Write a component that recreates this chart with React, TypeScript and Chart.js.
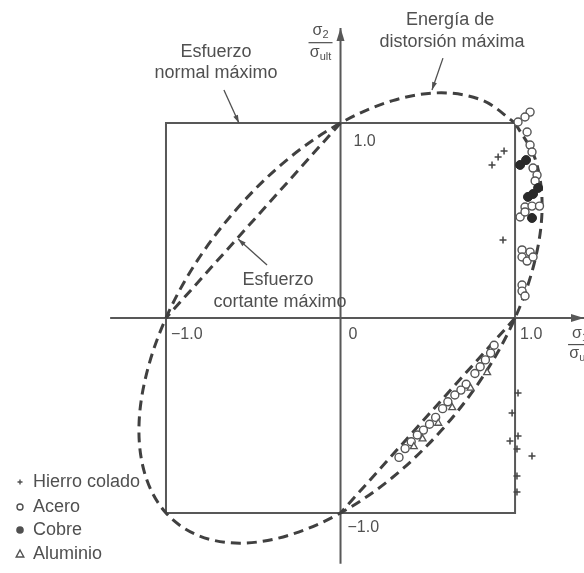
import React, { useEffect, useRef } from "react";
import { Chart, registerables } from "chart.js";

Chart.register(...registerables);

// ---- scale ranges (data units: sigma / sigma_ult) ----
const X_MIN = -1.951;
const X_MAX = 1.395;
const Y_MIN = -1.308;
const Y_MAX = 1.631;

// ---- theory curves ----
const normalMaximo = [
  { x: -1, y: -1 }, { x: 1, y: -1 }, { x: 1, y: 1 }, { x: -1, y: 1 }, { x: -1, y: -1 },
];
const cortanteMaximoA = [{ x: 0, y: 1 }, { x: -1, y: 0 }];
const cortanteMaximoB = [{ x: 1, y: 0 }, { x: 0, y: -1 }];
const energiaDistorsion = [
  { x: 1, y: 1 }, { x: 1.115, y: 0.817 }, { x: 1.155, y: 0.577 }, { x: 1.115, y: 0.299 },
  { x: 1.0, y: 0.0 }, { x: 0.817, y: -0.299 }, { x: 0.577, y: -0.577 }, { x: 0.299, y: -0.817 },
  { x: 0, y: -1 }, { x: -0.299, y: -1.115 }, { x: -0.577, y: -1.155 }, { x: -0.817, y: -1.115 },
  { x: -1, y: -1 }, { x: -1.115, y: -0.817 }, { x: -1.155, y: -0.577 }, { x: -1.115, y: -0.299 },
  { x: -1, y: 0 }, { x: -0.817, y: 0.299 }, { x: -0.577, y: 0.577 }, { x: -0.299, y: 0.817 },
  { x: 0, y: 1 }, { x: 0.299, y: 1.115 }, { x: 0.577, y: 1.155 }, { x: 0.817, y: 1.115 },
  { x: 1, y: 1 },
];

// ---- axes ----
const ejeX = [{ x: -1.32, y: 0 }, { x: 1.395, y: 0 }];
const ejeY = [{ x: 0, y: -1.26 }, { x: 0, y: 1.487 }];
const tickValuesX = [-1, 0, 1];
const tickLabelsX = ["\u22121.0", "0", "1.0"];
const tickValuesY = [1, -1];
const tickLabelsY = ["1.0", "\u22121.0"];

// ---- experimental data ----
const hierroColado = [
  { x: 1.017, y: -0.385 }, { x: 0.983, y: -0.487 }, { x: 1.017, y: -0.605 }, { x: 0.971, y: -0.631 },
  { x: 1.011, y: -0.672 }, { x: 1.097, y: -0.708 }, { x: 1.011, y: -0.81 }, { x: 1.011, y: -0.892 },
  { x: 0.868, y: 0.785 }, { x: 0.903, y: 0.826 }, { x: 0.937, y: 0.856 }, { x: 0.931, y: 0.4 },
];
const acero = [
  { x: 1.086, y: 1.056 }, { x: 1.057, y: 1.031 }, { x: 1.017, y: 1.005 }, { x: 1.069, y: 0.954 },
  { x: 1.086, y: 0.887 }, { x: 1.097, y: 0.851 }, { x: 1.103, y: 0.769 }, { x: 1.126, y: 0.733 },
  { x: 1.115, y: 0.703 }, { x: 1.057, y: 0.569 }, { x: 1.097, y: 0.574 }, { x: 1.14, y: 0.574 },
  { x: 1.029, y: 0.518 }, { x: 1.057, y: 0.544 }, { x: 1.04, y: 0.349 }, { x: 1.086, y: 0.338 },
  { x: 1.04, y: 0.313 }, { x: 1.069, y: 0.292 }, { x: 1.103, y: 0.313 }, { x: 1.04, y: 0.169 },
  { x: 1.04, y: 0.138 }, { x: 1.057, y: 0.113 },
  { x: 0.88, y: -0.14 }, { x: 0.86, y: -0.18 }, { x: 0.83, y: -0.215 }, { x: 0.8, y: -0.25 },
  { x: 0.77, y: -0.285 }, { x: 0.72, y: -0.34 }, { x: 0.69, y: -0.37 }, { x: 0.655, y: -0.395 },
  { x: 0.615, y: -0.43 }, { x: 0.585, y: -0.465 }, { x: 0.545, y: -0.51 }, { x: 0.51, y: -0.545 },
  { x: 0.475, y: -0.575 }, { x: 0.44, y: -0.6 }, { x: 0.405, y: -0.635 }, { x: 0.37, y: -0.67 },
  { x: 0.335, y: -0.715 },
];
const cobre = [
  { x: 1.029, y: 0.785 }, { x: 1.063, y: 0.81 }, { x: 1.074, y: 0.621 }, { x: 1.132, y: 0.667 },
  { x: 1.103, y: 0.636 }, { x: 1.097, y: 0.513 },
];
const aluminio = [
  { x: 0.84, y: -0.28 }, { x: 0.745, y: -0.36 }, { x: 0.64, y: -0.46 }, { x: 0.56, y: -0.54 },
  { x: 0.47, y: -0.62 }, { x: 0.42, y: -0.66 },
];
const seriesNames = ["Hierro colado", "Acero", "Cobre", "Aluminio"];

const INK = "#505050";
const LINE = "#585858";
const FONT = "'Liberation Sans', Arial, sans-serif";

function arrowHead(ctx: CanvasRenderingContext2D, x: number, y: number, angle: number, len: number, w: number) {
  ctx.save();
  ctx.translate(x, y);
  ctx.rotate(angle);
  ctx.beginPath();
  ctx.moveTo(0, 0);
  ctx.lineTo(-len, -w / 2);
  ctx.lineTo(-len, w / 2);
  ctx.closePath();
  ctx.fill();
  ctx.restore();
}

function drawSigma(ctx: CanvasRenderingContext2D, cx: number, cy: number, sub: string) {
  ctx.font = `16px ${FONT}`;
  const w1 = ctx.measureText("\u03c3").width;
  ctx.font = `11px ${FONT}`;
  const w2 = ctx.measureText(sub).width;
  const left = cx - (w1 + w2) / 2;
  ctx.textAlign = "left";
  ctx.textBaseline = "middle";
  ctx.font = `16px ${FONT}`;
  ctx.fillText("\u03c3", left, cy - 1);
  ctx.font = `11px ${FONT}`;
  ctx.fillText(sub, left + w1, cy + 3);
}

const decorPlugin = {
  id: "decor",
  beforeDraw(chart: any) {
    const { ctx, width, height } = chart;
    ctx.save();
    ctx.fillStyle = "#ffffff";
    ctx.fillRect(0, 0, width, height);
    ctx.restore();
  },
  afterDatasetsDraw(chart: any) {
    const { ctx } = chart;
    const xs = chart.scales.x;
    const ys = chart.scales.y;
    const px = (v: number) => xs.getPixelForValue(v);
    const py = (v: number) => ys.getPixelForValue(v);
    ctx.save();
    ctx.fillStyle = LINE;
    ctx.strokeStyle = LINE;
    // axis arrowheads
    arrowHead(ctx, px(ejeX[1].x), py(0), 0, 13, 8);
    arrowHead(ctx, px(0), py(ejeY[1].y), -Math.PI / 2, 13, 8);

    // tick labels
    ctx.fillStyle = INK;
    ctx.font = `16px ${FONT}`;
    ctx.textAlign = "left";
    ctx.textBaseline = "middle";
    tickValuesX.forEach((v, i) => {
      ctx.fillText(tickLabelsX[i], px(v) + (v === 0 ? 8 : 5), py(0) + 17);
    });
    tickValuesY.forEach((v, i) => {
      ctx.fillText(tickLabelsY[i], px(0) + (v > 0 ? 13 : 7), py(v) + (v > 0 ? 19 : 15));
    });

    // axis titles (fractions)
    const tx = px(0) - 20;
    const ty = py(ejeY[1].y);
    drawSigma(ctx, tx, ty + 4, "2");
    ctx.fillRect(tx - 12, ty + 14, 24, 1.2);
    drawSigma(ctx, tx, ty + 26, "ult");
    const rx = px(1) + 65;
    const ry = py(0);
    drawSigma(ctx, rx, ry + 17, "1");
    ctx.fillRect(rx - 12, ry + 26, 24, 1.2);
    drawSigma(ctx, rx, ry + 37, "ult");

    // annotations
    ctx.font = `18px ${FONT}`;
    ctx.textAlign = "center";
    ctx.fillText("Esfuerzo", px(-0.713), py(1.364));
    ctx.fillText("normal m\u00e1ximo", px(-0.713), py(1.256));
    ctx.fillText("Energ\u00eda de", px(0.628), py(1.528));
    ctx.fillText("distorsi\u00f3n m\u00e1xima", px(0.639), py(1.415));
    ctx.fillText("Esfuerzo", px(-0.358), py(0.195));
    ctx.fillText("cortante m\u00e1ximo", px(-0.347), py(0.082));

    const pointer = (x1: number, y1: number, x2: number, y2: number) => {
      const a = px(x1), b = py(y1), c = px(x2), d = py(y2);
      ctx.strokeStyle = INK;
      ctx.fillStyle = INK;
      ctx.lineWidth = 1.3;
      ctx.beginPath();
      ctx.moveTo(a, b);
      ctx.lineTo(c, d);
      ctx.stroke();
      arrowHead(ctx, c, d, Math.atan2(d - b, c - a), 8, 5);
    };
    pointer(-0.668, 1.169, -0.582, 1.0);
    pointer(0.587, 1.333, 0.524, 1.169);
    pointer(-0.421, 0.272, -0.587, 0.405);

    // legend
    const lx = chart.chartArea.left + 20;
    const tx0 = chart.chartArea.left + 33;
    const rows = [482, 507, 530, 554].map((v) => chart.chartArea.top + v);
    ctx.textAlign = "left";
    ctx.font = `18px ${FONT}`;
    ctx.fillStyle = INK;
    seriesNames.forEach((name, i) => ctx.fillText(name, tx0, rows[i]));
    ctx.strokeStyle = INK;
    ctx.fillStyle = INK;
    ctx.lineWidth = 1.4;
    // hierro colado: small cross
    ctx.beginPath();
    ctx.moveTo(lx - 2.5, rows[0]); ctx.lineTo(lx + 2.5, rows[0]);
    ctx.moveTo(lx, rows[0] - 2.5); ctx.lineTo(lx, rows[0] + 2.5);
    ctx.stroke();
    // acero: open circle
    ctx.beginPath();
    ctx.arc(lx, rows[1], 3, 0, Math.PI * 2);
    ctx.stroke();
    // cobre: filled circle
    ctx.beginPath();
    ctx.arc(lx, rows[2], 3.8, 0, Math.PI * 2);
    ctx.fill();
    // aluminio: triangle
    ctx.beginPath();
    ctx.moveTo(lx, rows[3] - 4);
    ctx.lineTo(lx + 3.8, rows[3] + 3);
    ctx.lineTo(lx - 3.8, rows[3] + 3);
    ctx.closePath();
    ctx.stroke();
    ctx.restore();
  },
};

export default function App() {
  const ref = useRef<HTMLCanvasElement | null>(null);
  useEffect(() => {
    if (!ref.current) return;
    const dashed = {
      borderColor: "#404040",
      borderWidth: 3,
      borderDash: [10, 6],
      pointRadius: 0,
      showLine: true,
      fill: false,
    };
    const chart = new Chart(ref.current, {
      type: "scatter",
      data: {
        datasets: [
          { label: "Cobre", data: cobre, pointStyle: "circle", pointRadius: 4.5, backgroundColor: "#2a2a2a", borderColor: "#2a2a2a", borderWidth: 1 },
          { label: "Aluminio", data: aluminio, pointStyle: "triangle", pointRadius: 4, backgroundColor: "#ffffff", borderColor: "#555", borderWidth: 1.3 },
          { label: "Acero", data: acero, pointStyle: "circle", pointRadius: 4, backgroundColor: "#ffffff", borderColor: "#555", borderWidth: 1.4 },
          { label: "Hierro colado", data: hierroColado, pointStyle: "cross", pointRadius: 3.5, borderColor: "#444", borderWidth: 1.5 },
          { label: "Energía de distorsión máxima", data: energiaDistorsion, tension: 0.34, ...dashed },
          { label: "Esfuerzo cortante máximo A", data: cortanteMaximoA, ...dashed },
          { label: "Esfuerzo cortante máximo B", data: cortanteMaximoB, ...dashed },
          { label: "Esfuerzo normal máximo", data: normalMaximo, showLine: true, pointRadius: 0, borderColor: LINE, borderWidth: 2, fill: false },
          { label: "eje x", data: ejeX, showLine: true, pointRadius: 0, borderColor: LINE, borderWidth: 2 },
          { label: "eje y", data: ejeY, showLine: true, pointRadius: 0, borderColor: LINE, borderWidth: 2 },
        ] as any,
      },
      options: {
        animation: false,
        responsive: false,
        devicePixelRatio: 1,
        events: [],
        layout: { padding: 0, autoPadding: false } as any,
        plugins: { legend: { display: false }, tooltip: { enabled: false } },
        scales: {
          x: { type: "linear", min: X_MIN, max: X_MAX, display: false },
          y: { type: "linear", min: Y_MIN, max: Y_MAX, display: false },
        },
      },
      plugins: [decorPlugin],
    });
    return () => chart.destroy();
  }, []);
  return (
    <div style={{ position: "absolute", left: 0, top: 0, width: 584, height: 573, background: "#fff" }}>
      <canvas ref={ref} width={584} height={573} style={{ display: "block", width: 584, height: 573 }} />
    </div>
  );
}
